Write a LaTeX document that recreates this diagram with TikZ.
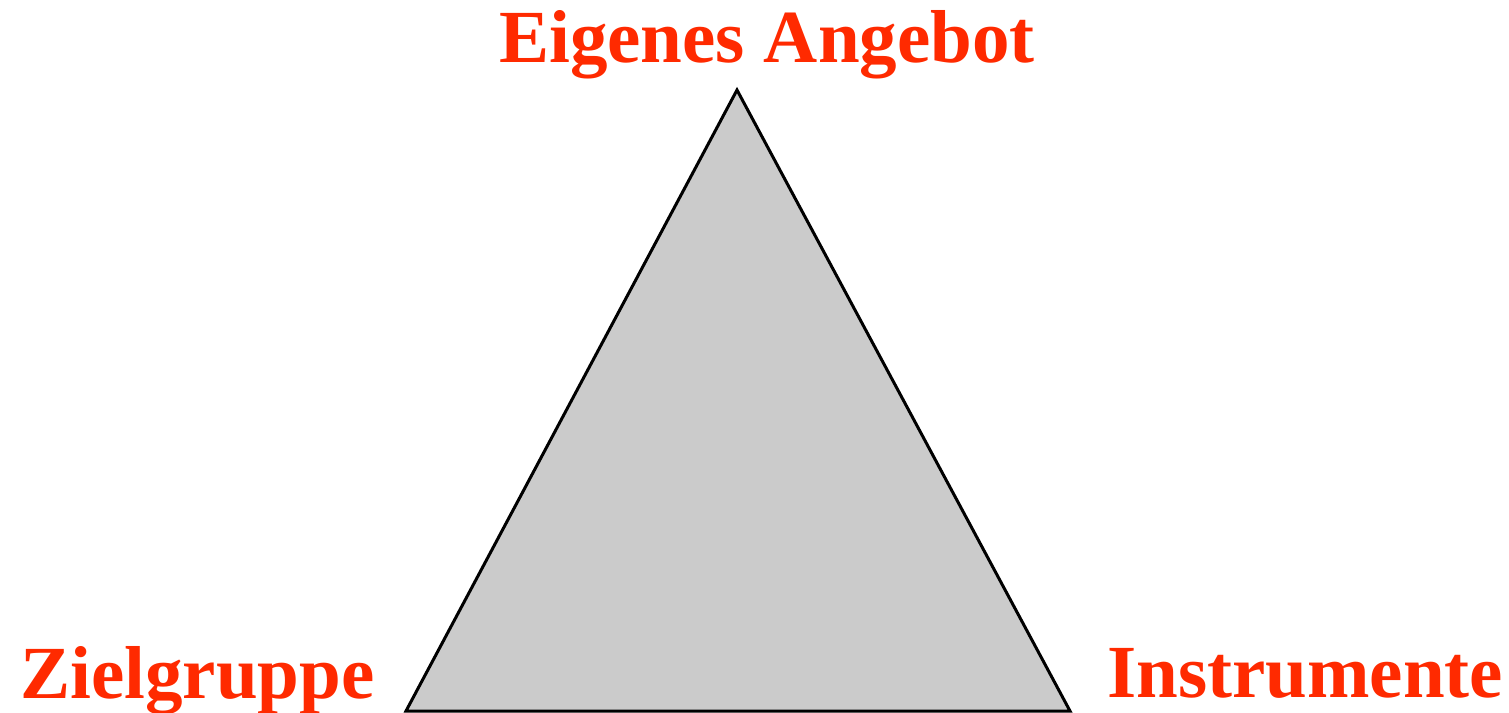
\documentclass[tikz,border=0pt]{standalone}
\usepackage{fontspec}
\setmainfont{Liberation Serif}
\usetikzlibrary{positioning}
\definecolor{dtRed}{HTML}{FF2A00}
\definecolor{dtGray}{HTML}{CBCBCB}
\tikzset{
  dt triangle/.style={draw=black, fill=dtGray, line width=3pt, line join=miter},
  dt label/.style={inner sep=0pt, text=dtRed, font=\bfseries\fontsize{75}{90}\selectfont}
}
\begin{document}
\begin{tikzpicture}[x=1pt,y=1pt]
  \useasboundingbox (0,0) rectangle (1509,712);

  \coordinate (apex) at (737,622);
  \coordinate (left) at (406,1);
  \coordinate (right) at (1070,1);
  \path[dt triangle] (apex) -- (right) -- (left) -- cycle;

  \node[dt label, anchor=base] (angebot) at (767,649) {Eigenes Angebot};
  \node[dt label, anchor=base west] (zielgruppe) at (20,14) {Zielgruppe};
  \node[dt label, anchor=base west] (instrumente) at (1107,15) {Instrumente};
\end{tikzpicture}
\end{document}
